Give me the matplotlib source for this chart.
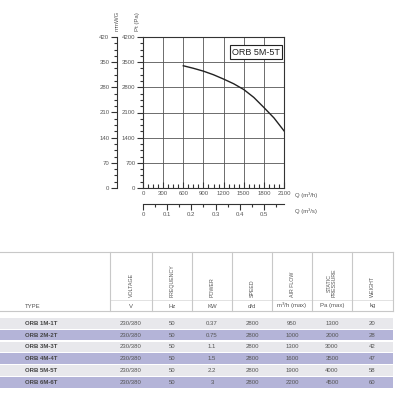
import numpy as np
import matplotlib.pyplot as plt
from matplotlib.ticker import MultipleLocator

plt.rcParams['font.family'] = ['Liberation Sans', 'DejaVu Sans']

# fan curve ORB 5M-5T
flow_m3h = [600, 750, 900, 1050, 1200, 1350, 1500, 1650, 1800, 1950, 2100]
pressure_pa = [3400, 3330, 3250, 3150, 3030, 2900, 2740, 2520, 2240, 1950, 1590]
model_label = 'ORB 5M-5T'

# table
headers = ['VOLTAGE', 'FREQUENCY', 'POWER', 'SPEED', 'AIR FLOW', 'STATIC\nPRESSURE', 'WEIGHT']
units = ['V', 'Hz', 'KW', 'd/d', 'm$^3$/h (max)', 'Pa (max)', 'kg']
types = ['ORB 1M-1T', 'ORB 2M-2T', 'ORB 3M-3T', 'ORB 4M-4T', 'ORB 5M-5T', 'ORB 6M-6T']
voltage = ['230/380'] * 6
frequency = ['50'] * 6
power = ['0.37', '0.75', '1.1', '1.5', '2.2', '3']
speed = ['2800'] * 6
air_flow = ['950', '1000', '1300', '1600', '1900', '2200']
static_p = ['1300', '2000', '3000', '3500', '4000', '4500']
weight = ['20', '28', '42', '47', '58', '60']

txt = '#555555'
fs = 4.3

fig = plt.figure(figsize=(4, 4), dpi=100)
W = H = 400.0

def fx(px):
    return px / W

def fy(py):
    return 1 - py / H

# main plot
ax = fig.add_axes([fx(143), fy(188), fx(284) - fx(143), fy(37) - fy(188)])
ax.plot(flow_m3h, pressure_pa, color='#222222', lw=1.0)
ax.set_xlim(0, 2100)
ax.set_ylim(0, 4200)
ax.xaxis.set_major_locator(MultipleLocator(300))
ax.xaxis.set_minor_locator(MultipleLocator(75))
ax.yaxis.set_major_locator(MultipleLocator(700))
ax.yaxis.set_minor_locator(MultipleLocator(175))
ax.grid(True, which='major', color='#555555', lw=0.6)
for s in ax.spines.values():
    s.set_color('#333333')
    s.set_linewidth(0.8)
ax.tick_params(axis='x', which='both', direction='in', colors='#333333', labelcolor=txt, labelsize=fs, pad=2)
ax.tick_params(axis='x', which='major', length=4, width=0.8)
ax.tick_params(axis='x', which='minor', length=3, width=0.8)
ax.tick_params(axis='y', which='both', direction='out', colors='#333333', labelcolor=txt, labelsize=fs, pad=1.5)
ax.tick_params(axis='y', which='major', length=4, width=0.8)
ax.tick_params(axis='y', which='minor', length=2.5, width=0.8)
ax.text(-0.04, 1.04, 'Pt (Pa)', transform=ax.transAxes, fontsize=fs, color=txt, rotation=90, va='bottom', ha='center')
ax.text(0.97, 0.9, model_label, transform=ax.transAxes, fontsize=6.5, color='#222222', ha='right', va='center',
        bbox=dict(boxstyle='square,pad=0.25', fc='white', ec='#222222', lw=0.8))
fig.text(fx(295), fy(195.5), 'Q (m³/h)', fontsize=fs, color=txt, va='center', ha='left')

# mmWG axis
ax_mm = fig.add_axes([fx(117), fy(188), 0.0001, fy(37) - fy(188)])
ax_mm.set_ylim(0, 420)
ax_mm.set_xticks([])
ax_mm.yaxis.set_major_locator(MultipleLocator(70))
ax_mm.yaxis.set_minor_locator(MultipleLocator(17.5))
for k in ['top', 'right', 'bottom']:
    ax_mm.spines[k].set_visible(False)
ax_mm.spines['left'].set_color('#333333')
ax_mm.spines['left'].set_linewidth(0.8)
ax_mm.tick_params(axis='y', which='both', direction='out', colors='#333333', labelcolor=txt, labelsize=fs, pad=1.5)
ax_mm.tick_params(axis='y', which='major', length=4, width=0.8)
ax_mm.tick_params(axis='y', which='minor', length=2.5, width=0.8)
ax_mm.text(0, 1.04, 'mmWG', transform=ax_mm.transAxes, fontsize=fs, color=txt, rotation=90, va='bottom', ha='center')

# m3/s axis
ax_q = fig.add_axes([fx(143), fy(204), fx(284) - fx(143), 0.0001])
ax_q.set_xlim(0, 2100 / 3600)
ax_q.set_yticks([])
ax_q.set_xticks(np.arange(0, 0.55, 0.1))
ax_q.set_xticklabels(['0', '0.1', '0.2', '0.3', '0.4', '0.5'])
ax_q.xaxis.set_minor_locator(MultipleLocator(0.05))
for k in ['top', 'right', 'left']:
    ax_q.spines[k].set_visible(False)
ax_q.spines['bottom'].set_color('#333333')
ax_q.spines['bottom'].set_linewidth(0.8)
ax_q.tick_params(axis='x', which='both', direction='out', colors='#333333', labelcolor=txt, labelsize=fs, pad=1.5)
ax_q.tick_params(axis='x', which='major', length=4, width=0.8)
ax_q.tick_params(axis='x', which='minor', length=2.5, width=0.8)
fig.text(fx(295), fy(211.5), 'Q (m³/s)', fontsize=fs, color=txt, va='center', ha='left')

# table
tb = fig.add_axes([0, 0, 1, 1])
tb.set_xlim(0, W)
tb.set_ylim(H, 0)
tb.axis('off')

col_edges = [110, 152, 192, 232, 272, 312, 352, 393]
col_centers = [(a + b) / 2 for a, b in zip(col_edges[:-1], col_edges[1:])]
line_c = '#c8c8c8'
tb.plot([0, 393], [252, 252], color=line_c, lw=0.8)
tb.plot([0, 393], [311, 311], color=line_c, lw=0.8)
tb.plot([110, 393], [300, 300], color='#dddddd', lw=0.6)
for x in col_edges:
    tb.plot([x, x], [252, 311], color=line_c, lw=0.8)

for c, h, u in zip(col_centers, headers, units):
    tb.text(c, 297, h, rotation=90, fontsize=3.8, color=txt, ha='center', va='bottom', linespacing=0.9)
    tb.text(c, 306, u, fontsize=fs, color=txt, ha='center', va='center')
tb.text(25, 306, 'TYPE', fontsize=fs, color=txt, ha='left', va='center')

row_h = 11.8
band_colors = ['#e8e8ec', '#b4b4d8']
columns = [voltage, frequency, power, speed, air_flow, static_p, weight]
for i, name in enumerate(types):
    yc = 323.3 + i * row_h
    tb.add_patch(plt.Rectangle((0, yc - 5.3), 393, 10.6, color=band_colors[i % 2], lw=0))
    tb.text(25, yc, name, fontsize=fs, color='#444444', ha='left', va='center', fontweight='bold')
    for c, col in zip(col_centers, columns):
        tb.text(c, yc, col[i], fontsize=fs, color=txt, ha='center', va='center')

fig.savefig('out.png', dpi=100, facecolor='white')
